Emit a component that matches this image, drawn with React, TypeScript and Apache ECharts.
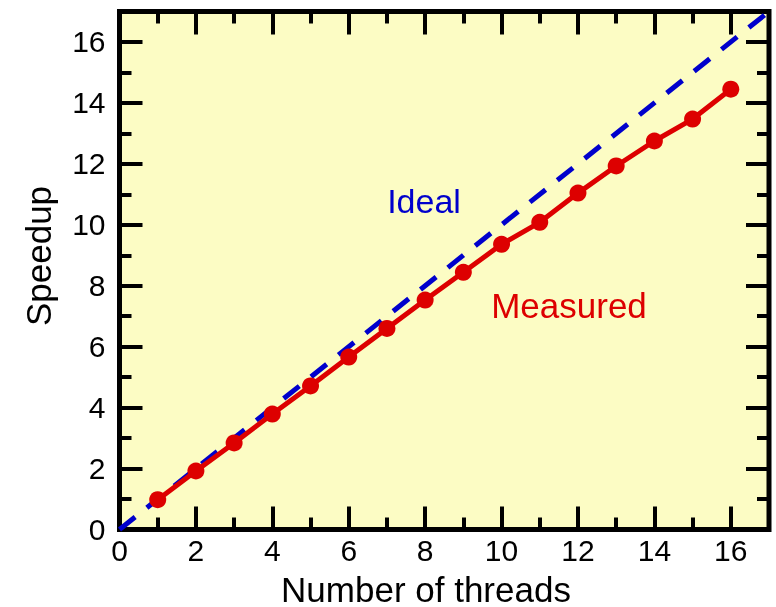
import React, { useEffect, useRef } from "react";
import * as echarts from "echarts";

const threads = [1, 2, 3, 4, 5, 6, 7, 8, 9, 10, 11, 12, 13, 14, 15, 16];
const measured = [0.98, 1.92, 2.84, 3.79, 4.71, 5.66, 6.6, 7.53, 8.44, 9.36, 10.08, 11.04, 11.93, 12.75, 13.47, 14.45];
const idealX = [0, 17];
const idealY = [0, 17];
const axisMin = 0;
const axisMax = 17;

const FONT = "'Liberation Sans', Arial, Helvetica, sans-serif";
const BLUE = "#0000cc";
const RED = "#dd0000";

export default function App() {
  const ref = useRef<HTMLDivElement>(null);
  useEffect(() => {
    if (!ref.current) return;
    const chart = echarts.init(ref.current, undefined, { renderer: "svg" });
    const majorLabel = {
      show: true,
      fontSize: 30,
      lineHeight: 26,
      fontFamily: FONT,
      color: "#000",
      formatter: (v: number) => (v === axisMax ? "" : String(v)),
    };
    const mkAxis = (gridIndex: number, position: string, interval: number, len: number, labels: boolean, margin: number) => ({
      type: "value",
      gridIndex,
      position,
      min: axisMin,
      max: axisMax,
      interval,
      axisLine: { show: false, onZero: false },
      splitLine: { show: false },
      axisTick: { show: true, inside: true, length: len, lineStyle: { color: "#000", width: 4 } },
      axisLabel: labels ? { ...majorLabel, margin } : { show: false },
    });
    const gridPos = { left: 119.5, right: 7, top: 11.5, bottom: 77.5 };
    chart.setOption({
      animation: false,
      grid: [
        {
          ...gridPos,
          show: true,
          backgroundColor: "#fcfcc4",
          borderColor: "#000",
          borderWidth: 5,
        },
        { ...gridPos, show: false },
      ],
      xAxis: [
        mkAxis(0, "bottom", 2, 23, true, 8),
        mkAxis(0, "top", 2, 23, false, 0),
        mkAxis(1, "bottom", 1, 12, false, 0),
        mkAxis(1, "top", 1, 12, false, 0),
      ],
      yAxis: [
        mkAxis(0, "left", 2, 23, true, 14),
        mkAxis(0, "right", 2, 23, false, 0),
        mkAxis(1, "left", 1, 12, false, 0),
        mkAxis(1, "right", 1, 12, false, 0),
      ],
      series: [
        {
          type: "line",
          name: "Ideal",
          xAxisIndex: 0,
          yAxisIndex: 0,
          data: idealX.map((x, i) => [x, idealY[i]]),
          showSymbol: false,
          symbol: "none",
          lineStyle: { color: BLUE, width: 5, type: [20, 15] },
          z: 2,
        },
        {
          type: "line",
          name: "Measured",
          xAxisIndex: 0,
          yAxisIndex: 0,
          data: threads.map((x, i) => [x, measured[i]]),
          symbol: "circle",
          symbolSize: 17,
          itemStyle: { color: RED },
          lineStyle: { color: RED, width: 5 },
          z: 3,
        },
      ],
      graphic: [
        {
          type: "text",
          x: 424,
          y: 201,
          style: { text: "Ideal", fill: BLUE, fontSize: 34, fontFamily: FONT, textAlign: "center", textVerticalAlign: "middle" },
        },
        {
          type: "text",
          x: 569,
          y: 305,
          style: { text: "Measured", fill: RED, fontSize: 35, fontFamily: FONT, textAlign: "center", textVerticalAlign: "middle" },
        },
        {
          type: "text",
          x: 426,
          y: 589,
          style: { text: "Number of threads", fill: "#000", fontSize: 35, lineHeight: 30, fontFamily: FONT, textAlign: "center", textVerticalAlign: "middle" },
        },
        {
          type: "text",
          x: 38,
          y: 256,
          rotation: Math.PI / 2,
          style: { text: "Speedup", fill: "#000", fontSize: 35, fontFamily: FONT, textAlign: "center", textVerticalAlign: "middle" },
        },
      ],
    });
    return () => chart.dispose();
  }, []);
  return <div ref={ref} style={{ position: "fixed", left: 0, top: 0, width: 776, height: 607 }} />;
}
